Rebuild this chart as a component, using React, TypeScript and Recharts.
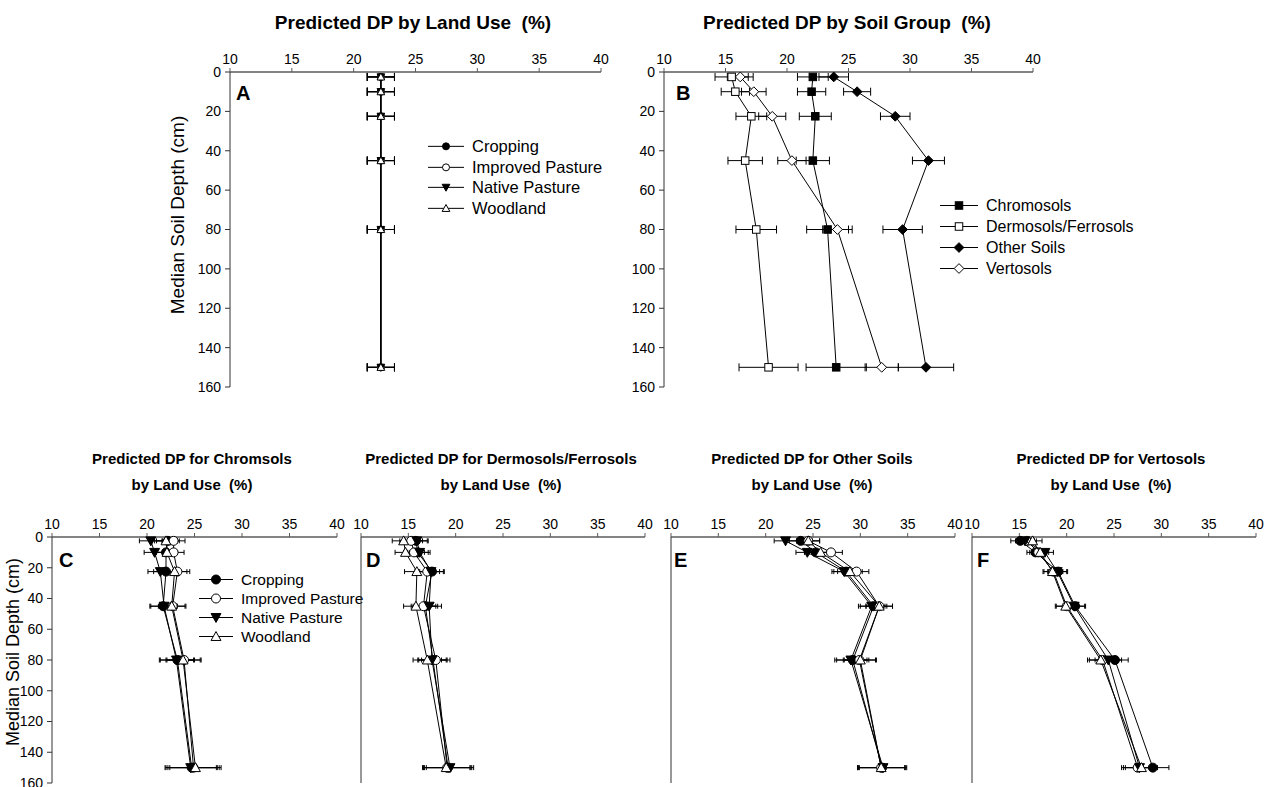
import React from "react";
import { ScatterChart, Scatter, XAxis, YAxis, ErrorBar, Legend } from "recharts";

const FONT = "'Liberation Sans Narrow', 'Arial Narrow', 'Liberation Sans', Arial, sans-serif";

// depths (cm) shared by every panel
const depths = [2.5, 10, 22.5, 45, 80, 150];
const xTicks = [10, 15, 20, 25, 30, 35, 40];
const yTicks = [0, 20, 40, 60, 80, 100, 120, 140, 160];

const landUses = ["Cropping", "Improved Pasture", "Native Pasture", "Woodland"];
const soilGroups = ["Chromosols", "Dermosols/Ferrosols", "Other Soils", "Vertosols"];

// A - by land use (all overlapping)
const aCropping = [22.2, 22.2, 22.2, 22.2, 22.2, 22.2];
const aImproved = [22.2, 22.2, 22.2, 22.2, 22.2, 22.2];
const aNative = [22.2, 22.2, 22.2, 22.2, 22.2, 22.2];
const aWoodland = [22.2, 22.2, 22.2, 22.2, 22.2, 22.2];
const aErr = [1.1, 1.1, 1.1, 1.1, 1.1, 1.1];

// B - by soil group
const bChromo = [22.1, 22.0, 22.3, 22.1, 23.3, 24.0];
const bChromoErr = [1.25, 1.15, 1.3, 1.35, 1.7, 2.45];
const bDermo = [15.5, 15.8, 17.1, 16.6, 17.5, 18.5];
const bDermoErr = [1.35, 1.15, 1.25, 1.4, 1.65, 2.4];
const bOther = [23.8, 25.7, 28.8, 31.5, 29.4, 31.3];
const bOtherErr = [1.2, 1.1, 1.2, 1.3, 1.6, 2.25];
const bVerto = [16.2, 17.3, 18.8, 20.4, 24.1, 27.7];
const bVertoErr = [1.05, 1.0, 1.1, 1.15, 1.2, 1.35];

// C - Chromosols by land use
const cCropping = [22.2, 22.0, 22.0, 21.7, 23.2, 24.7];
const cImproved = [22.8, 22.8, 23.2, 22.7, 23.9, 24.9];
const cNative = [20.4, 20.8, 21.4, 21.8, 23.1, 24.6];
const cWoodland = [22.0, 22.1, 22.9, 22.6, 23.8, 25.1];
const cErr = [1.2, 1.1, 1.3, 1.4, 1.8, 2.7];

// D - Dermosols/Ferrosols by land use
const dCropping = [15.8, 16.0, 17.5, 16.8, 17.6, 19.2];
const dImproved = [15.3, 15.6, 17.0, 16.6, 17.9, 19.1];
const dNative = [15.9, 16.2, 17.4, 17.2, 17.5, 19.4];
const dWoodland = [14.5, 14.7, 15.9, 15.8, 17.0, 19.0];
const dErr = [1.2, 1.1, 1.3, 1.3, 1.5, 2.5];

// E - Other soils by land use
const eCropping = [23.7, 25.3, 28.5, 31.4, 29.2, 32.3];
const eImproved = [24.5, 26.9, 29.6, 32.0, 29.9, 32.2];
const eNative = [22.1, 24.4, 28.3, 31.2, 29.0, 32.4];
const eWoodland = [24.5, 25.8, 28.9, 32.0, 30.0, 32.2];
const eErr = [1.2, 1.2, 1.3, 1.4, 1.7, 2.5];

// F - Vertosols by land use
const fCropping = [15.1, 16.7, 19.1, 20.9, 25.1, 29.1];
const fImproved = [15.8, 17.0, 18.6, 20.0, 23.8, 27.5];
const fNative = [15.6, 17.7, 19.0, 20.8, 24.4, 27.7];
const fWoodland = [16.4, 17.2, 18.5, 19.9, 23.6, 27.9];
const fErr = [1.0, 0.9, 1.0, 1.1, 1.4, 1.7];

const landMarkers = ["circleFilled", "circleOpen", "triDownFilled", "triUpOpen"];
const soilMarkers = ["squareFilled", "squareOpen", "diamondFilled", "diamondOpen"];

type Series = { name: string; marker: string; data: { v: number; d: number; e: number }[] };

function build(names: string[], markers: string[], vals: number[][], errs: number[][]): Series[] {
  return names.map((name, i) => ({
    name,
    marker: markers[i],
    data: depths.map((d, j) => ({ d, v: vals[i][j], e: errs[i][j] })),
  }));
}

function Marker({ kind, cx, cy, s }: { kind: string; cx: number; cy: number; s: number }) {
  const fill = kind.endsWith("Filled") ? "#000" : "#fff";
  const h = s / 2;
  const common = { fill, stroke: "#000", strokeWidth: 1 };
  if (kind.startsWith("circle")) return <circle cx={cx} cy={cy} r={h} {...common} />;
  if (kind.startsWith("square")) return <rect x={cx - h} y={cy - h} width={s} height={s} {...common} />;
  if (kind.startsWith("diamond")) {
    const k = h * 1.3;
    return <polygon points={`${cx},${cy - k} ${cx + k},${cy} ${cx},${cy + k} ${cx - k},${cy}`} {...common} />;
  }
  if (kind.startsWith("triDown")) {
    const k = h * 1.1;
    return <polygon points={`${cx - k},${cy - k * 0.8} ${cx + k},${cy - k * 0.8} ${cx},${cy + k}`} {...common} />;
  }
  const k = h * 1.1;
  return <polygon points={`${cx},${cy - k} ${cx + k},${cy + k * 0.8} ${cx - k},${cy + k * 0.8}`} {...common} />;
}

function LegendRows({ series, rowH, lineW, fontSize, markerSize }: any) {
  return (
    <div style={{ fontFamily: FONT, fontSize, color: "#000" }}>
      {series.map((s: Series) => (
        <div key={s.name} style={{ display: "flex", alignItems: "center", height: rowH, whiteSpace: "nowrap" }}>
          <svg width={lineW} height={rowH} style={{ marginRight: 8 }}>
            <line x1={0} x2={lineW} y1={rowH / 2} y2={rowH / 2} stroke="#000" strokeWidth={1} />
            <Marker kind={s.marker} cx={lineW / 2} cy={rowH / 2} s={markerSize} />
          </svg>
          <span>{s.name}</span>
        </div>
      ))}
    </div>
  );
}

type PanelProps = {
  left: number;
  top: number;
  width: number;
  height: number;
  margin: { top: number; right: number; bottom: number; left: number };
  yWidth: number;
  series: Series[];
  showYTicks: boolean;
  markerSize: number;
  cap: number;
  legend?: { left: number; top: number; rowH: number; lineW: number; fontSize: number };
};

function Panel({ left, top, width, height, margin, yWidth, series, showYTicks, markerSize, cap, legend }: PanelProps) {
  const tickStyle = { fill: "#000", fontSize: 14, fontFamily: FONT };
  return (
    <div style={{ position: "absolute", left, top }}>
      <ScatterChart width={width} height={height} margin={margin}>
        <XAxis
          type="number"
          dataKey="v"
          orientation="top"
          domain={[10, 40]}
          ticks={xTicks}
          interval={0}
          height={30}
          tickSize={4}
          tickMargin={4}
          axisLine={{ stroke: "#5a5a5a", strokeWidth: 1.5 }}
          tickLine={{ stroke: "#5a5a5a" }}
          tick={tickStyle}
        />
        <YAxis
          type="number"
          dataKey="d"
          reversed
          domain={[0, 160]}
          ticks={yTicks}
          interval={0}
          width={yWidth}
          tickSize={5}
          tickMargin={4}
          axisLine={{ stroke: "#333" }}
          tickLine={{ stroke: "#333" }}
          tick={showYTicks ? tickStyle : false}
        />
        {series.map((s) => (
          <Scatter
            key={s.name}
            name={s.name}
            data={s.data}
            fill="#000"
            line={{ stroke: "#000", strokeWidth: 1 }}
            isAnimationActive={false}
            shape={(p: any) => <Marker kind={s.marker} cx={p.cx} cy={p.cy} s={markerSize} />}
          >
            <ErrorBar dataKey="e" direction="x" width={cap} stroke="#000" strokeWidth={1} />
          </Scatter>
        ))}
        {legend && (
          <Legend
            layout="vertical"
            align="center"
            verticalAlign="middle"
            wrapperStyle={{ left: legend.left, top: legend.top, width: "auto" }}
            content={() => (
              <LegendRows
                series={series}
                rowH={legend.rowH}
                lineW={legend.lineW}
                fontSize={legend.fontSize}
                markerSize={markerSize}
              />
            )}
          />
        )}
      </ScatterChart>
    </div>
  );
}

const seriesA = build(landUses, landMarkers, [aCropping, aImproved, aNative, aWoodland], [aErr, aErr, aErr, aErr]);
const seriesB = build(soilGroups, soilMarkers, [bChromo, bDermo, bOther, bVerto], [bChromoErr, bDermoErr, bOtherErr, bVertoErr]);
const seriesC = build(landUses, landMarkers, [cCropping, cImproved, cNative, cWoodland], [cErr, cErr, cErr, cErr]);
const seriesD = build(landUses, landMarkers, [dCropping, dImproved, dNative, dWoodland], [dErr, dErr, dErr, dErr]);
const seriesE = build(landUses, landMarkers, [eCropping, eImproved, eNative, eWoodland], [eErr, eErr, eErr, eErr]);
const seriesF = build(landUses, landMarkers, [fCropping, fImproved, fNative, fWoodland], [fErr, fErr, fErr, fErr]);

function Title({ cx, top, lines, size }: { cx: number; top: number; lines: string[]; size: number }) {
  return (
    <div
      style={{
        position: "absolute",
        left: cx - 200,
        top,
        width: 400,
        textAlign: "center",
        fontFamily: FONT,
        fontWeight: "bold",
        fontSize: size,
        whiteSpace: "pre",
        lineHeight: lines.length > 1 ? "26px" : "22px",
      }}
    >
      {lines.map((l) => (
        <div key={l}>{l}</div>
      ))}
    </div>
  );
}

function YLabel({ cx, cy, size }: { cx: number; cy: number; size: number }) {
  return (
    <div
      style={{
        position: "absolute",
        left: cx - 150,
        top: cy - 11,
        width: 300,
        height: 22,
        lineHeight: "22px",
        textAlign: "center",
        fontFamily: FONT,
        fontSize: size,
        transform: "rotate(-90deg)",
        whiteSpace: "nowrap",
      }}
    >
      Median Soil Depth (cm)
    </div>
  );
}

function Letter({ x, baseline, text }: { x: number; baseline: number; text: string }) {
  return (
    <div
      style={{
        position: "absolute",
        left: x,
        top: baseline - 17,
        fontFamily: FONT,
        fontWeight: "bold",
        fontSize: 20,
        lineHeight: "20px",
      }}
    >
      {text}
    </div>
  );
}

export default function App() {
  const botMargin = { top: 12, right: 8, bottom: 12, left: 0 };
  return (
    <div style={{ position: "absolute", left: 0, top: 0, width: 1269, height: 787, background: "#fff", overflow: "hidden" }}>
      <Title cx={413} top={12} lines={["Predicted DP by Land Use  (%)"]} size={19} />
      <Title cx={847} top={12} lines={["Predicted DP by Soil Group  (%)"]} size={19} />
      <Title cx={192} top={446} lines={["Predicted DP for Chromsols", "by Land Use  (%)"]} size={15} />
      <Title cx={501} top={446} lines={["Predicted DP for Dermosols/Ferrosols", "by Land Use  (%)"]} size={15} />
      <Title cx={812} top={446} lines={["Predicted DP for Other Soils", "by Land Use  (%)"]} size={15} />
      <Title cx={1111} top={446} lines={["Predicted DP for Vertosols", "by Land Use  (%)"]} size={15} />

      <Panel
        left={160}
        top={30}
        width={461}
        height={372}
        margin={{ top: 12, right: 20, bottom: 15, left: 20 }}
        yWidth={50}
        series={seriesA}
        showYTicks
        markerSize={7}
        cap={4}
        legend={{ left: 268, top: 106, rowH: 20.7, lineW: 36, fontSize: 16.5 }}
      />
      <Panel
        left={600}
        top={30}
        width={453}
        height={372}
        margin={{ top: 12, right: 20, bottom: 15, left: 14 }}
        yWidth={50}
        series={seriesB}
        showYTicks
        markerSize={7.5}
        cap={4}
        legend={{ left: 340, top: 165, rowH: 21, lineW: 38, fontSize: 16 }}
      />
      <Panel
        left={0}
        top={495}
        width={345}
        height={300}
        margin={{ top: 12, right: 8, bottom: 12, left: 12 }}
        yWidth={40}
        series={seriesC}
        showYTicks
        markerSize={9}
        cap={2.5}
        legend={{ left: 199, top: 75, rowH: 19, lineW: 34, fontSize: 15.5 }}
      />
      <Panel left={330} top={495} width={323} height={300} margin={botMargin} yWidth={31} series={seriesD} showYTicks={false} markerSize={9} cap={2.5} />
      <Panel left={640} top={495} width={323} height={300} margin={botMargin} yWidth={31} series={seriesE} showYTicks={false} markerSize={9} cap={2.5} />
      <Panel left={941} top={495} width={323} height={300} margin={botMargin} yWidth={31} series={seriesF} showYTicks={false} markerSize={9} cap={2.5} />

      <YLabel cx={178} cy={215} size={19} />
      <YLabel cx={13} cy={652} size={18} />

      <Letter x={236} baseline={99.5} text="A" />
      <Letter x={676} baseline={100} text="B" />
      <Letter x={59} baseline={566.5} text="C" />
      <Letter x={366} baseline={566.5} text="D" />
      <Letter x={674} baseline={566.5} text="E" />
      <Letter x={977} baseline={566.5} text="F" />
    </div>
  );
}
